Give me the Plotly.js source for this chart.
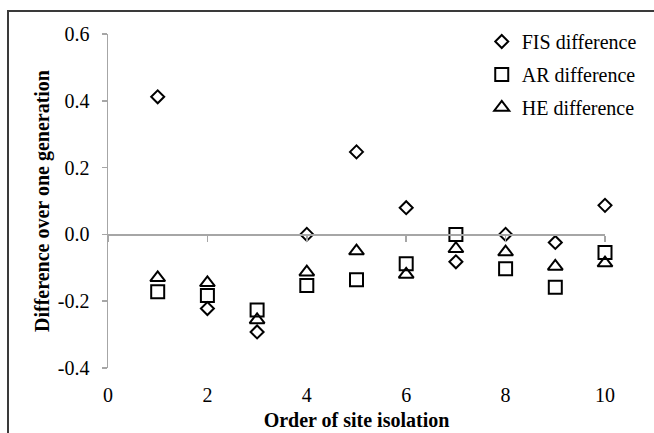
<!DOCTYPE html>
<html>
<head>
<meta charset="utf-8">
<script src="https://cdn.plot.ly/plotly-3.0.1.min.js"></script>
<style>
  html, body { margin: 0; padding: 0; width: 654px; height: 433px; overflow: hidden; background: #fff; }
  #frame { position: absolute; left: 7px; top: 10px; width: 700px; height: 500px; border: 2px solid #3a3a3a; box-sizing: border-box; }
  #chart { position: absolute; left: 0; top: 0; width: 654px; height: 433px; }
</style>
</head>
<body>
<div id="frame"></div>
<div id="chart"></div>
<script>
const order = [1, 2, 3, 4, 5, 6, 7, 8, 9, 10];
const fisDiff = [0.412, -0.222, -0.292, 0.0, 0.247, 0.080, -0.082, 0.0, -0.024, 0.087];
const arDiff = [-0.172, -0.183, -0.226, -0.153, -0.136, -0.088, 0.0, -0.103, -0.158, -0.054];
const heDiff = [-0.130, -0.145, -0.256, -0.113, -0.050, -0.120, -0.043, -0.053, -0.096, -0.086];
const seriesNames = ["FIS difference", "AR difference", "HE difference"];
const xTicks = [0, 2, 4, 6, 8, 10];
const yTicks = [-0.4, -0.2, 0.0, 0.2, 0.4, 0.6];

const fontFam = '"Liberation Serif", "Times New Roman", serif';

function mk(name, y, symbol, size, group) {
  return {
    type: 'scatter', mode: 'markers', name: name, x: order, y: y,
    legendgroup: group, cliponaxis: false,
    marker: { symbol: symbol, size: size, color: '#000', line: { color: '#000', width: 2 } },
    xaxis: 'x', yaxis: 'y'
  };
}

const data = [
  mk(seriesNames[0], fisDiff, 'diamond-open', 10, 'g1'),
  mk(seriesNames[1], arDiff, 'square-open', 13, 'g2'),
  mk(seriesNames[2], heDiff, 'triangle-up-open', 13, 'g3'),
  { type: 'scatter', mode: 'markers', x: [], y: [], xaxis: 'x2', yaxis: 'y', showlegend: false, hoverinfo: 'skip' }
];

const layout = {
  width: 654, height: 433,
  margin: { l: 108, r: 46, t: 34, b: 65 },
  paper_bgcolor: 'rgba(0,0,0,0)', plot_bgcolor: 'rgba(0,0,0,0)',
  font: { family: fontFam, size: 20, color: '#000' },
  showlegend: true,
  legend: {
    x: 0.752, y: 1.036, xanchor: 'left', yanchor: 'top',
    bgcolor: 'rgba(0,0,0,0)', traceorder: 'grouped', tracegroupgap: 4,
    font: { family: fontFam, size: 20, color: '#000' }
  },
  xaxis: {
    range: [0, 10], tickvals: xTicks, ticktext: xTicks.map(String),
    showline: false, showgrid: false, zeroline: false,
    ticks: 'outside', ticklen: 9, tickcolor: 'rgba(0,0,0,0)',
    tickfont: { family: fontFam, size: 20, color: '#000' },
    title: { text: '<b>Order of site isolation</b>', font: { family: fontFam, size: 20, color: '#000' }, standoff: 7 },
    automargin: false, fixedrange: true
  },
  xaxis2: {
    overlaying: 'x', anchor: 'free', position: 0.4, side: 'bottom',
    range: [0, 10], tickvals: xTicks, showticklabels: false,
    showline: true, linecolor: '#a6a6a6', linewidth: 1.5,
    ticks: 'outside', ticklen: 6, tickcolor: '#a6a6a6', tickwidth: 1.5,
    showgrid: false, zeroline: false, automargin: false
  },
  yaxis: {
    range: [-0.4, 0.6], tickvals: yTicks, ticktext: yTicks.map(v => v.toFixed(1)),
    showline: true, linecolor: '#a6a6a6', linewidth: 1.5,
    ticks: 'outside', ticklen: 5, tickcolor: '#a6a6a6', tickwidth: 1.5,
    ticklabelstandoff: 8,
    showgrid: false, zeroline: false,
    tickfont: { family: fontFam, size: 20, color: '#000' },
    title: { text: '<b>Difference over one generation</b>', font: { family: fontFam, size: 20, color: '#000' }, standoff: 3 },
    automargin: false, fixedrange: true
  }
};

Plotly.newPlot('chart', data, layout, { displayModeBar: false, staticPlot: true });
</script>
</body>
</html>
